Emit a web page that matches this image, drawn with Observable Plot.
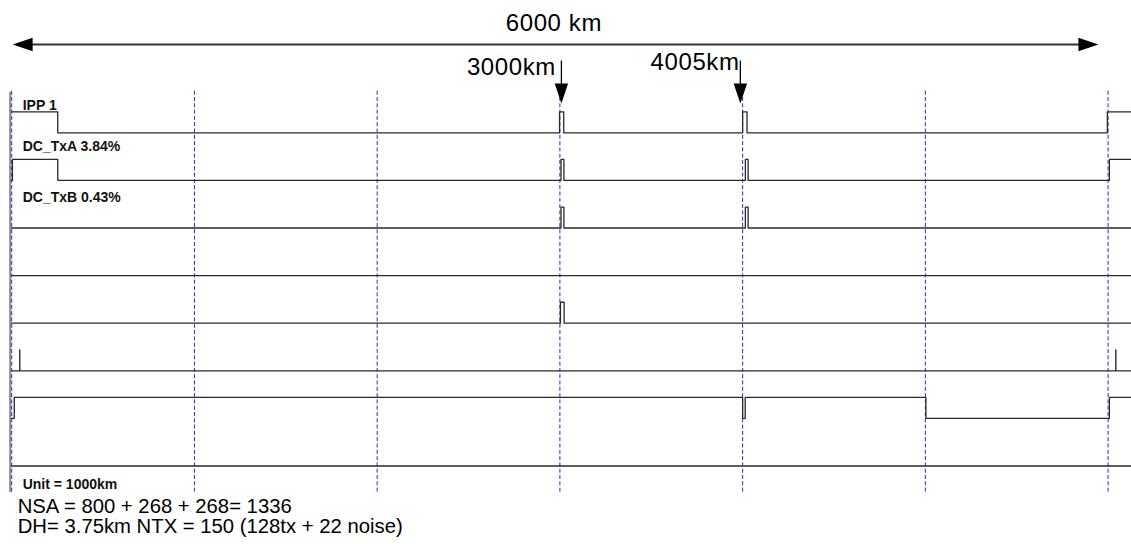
<!DOCTYPE html>
<html>
<head>
<meta charset="utf-8">
<script src="https://cdn.jsdelivr.net/npm/d3@7"></script>
<script src="https://cdn.jsdelivr.net/npm/@observablehq/plot@0.6"></script>
<style>
  html, body { margin: 0; padding: 0; background: #fff; }
  #chart svg { display: block; }
</style>
</head>
<body>
<div id="chart"></div>
<script>
// ---- data ----
const gridKm = [0, 1000, 2000, 3000, 4000, 5000, 6000];
const traceLabels = ["IPP 1", "DC_TxA 3.84%", "DC_TxB 0.43%"];
const markerKm = [3000, 4005];
const markerLabels = ["3000km", "4005km"];
const spanKm = [5, 5947];
const spanLabel = ["6000 km"];
const unitLabel = ["Unit = 1000km"];
const notes = ["NSA = 800 + 268 + 268= 1336", "DH= 3.75km NTX = 150 (128tx + 22 noise)"];

// each trace: [km, level] transitions (level 0 = low, 1 = high)
const traceIPP1 = [[0, 1], [252, 0], [2998, 1], [3021, 0], [4000, 1], [4024, 0], [5996, 1], [6130, 1]];
const traceTxA  = [[0, 0], [4, 1], [252, 0], [3006, 1], [3022, 0], [4015, 1], [4030, 0], [6007, 1], [6130, 1]];
const traceTxB  = [[0, 0], [3006, 1], [3022, 0], [4015, 1], [4030, 0], [6130, 0]];
const trace4    = [[0, 0], [6130, 0]];
const trace5    = [[0, 0], [3003, 1], [3023, 0], [6130, 0]];
const trace6    = [[0, 0], [44, 1], [44.5, 0], [6042, 1], [6042.5, 0], [6130, 0]];
const trace7    = [[0, 0], [14, 1], [4000, 0], [4014, 1], [5003, 0], [6007, 1], [6130, 1]];
const trace8    = [[0, 0], [6130, 0]];
const traces = [traceIPP1, traceTxA, traceTxB, trace4, trace5, trace6, trace7, trace8];

// ---- build table ----
const pulseHeight = 0.44; // in row units
const rows = [];
traces.forEach((t, i) => t.forEach(([km, lvl]) => rows.push({trace: i, km, lvl})));
const yOf = d => d.trace + 1 - d.lvl * pulseHeight;

const font = "Liberation Sans, Arial, Helvetica, sans-serif";
const headSymbol = {
  draw(context, size) {
    const r = Math.sqrt(size / Math.PI);
    context.moveTo(0, 0);
    context.lineTo(-2 * r, -0.67 * r);
    context.lineTo(-2 * r, 0.67 * r);
    context.closePath();
  }
};

const plot = Plot.plot({
  width: 1131,
  height: 544,
  margin: 0,
  style: {fontFamily: font, background: "#fff", overflow: "visible"},
  x: {type: "linear", domain: [0, 6000], range: [11.2, 1107.6], axis: null},
  y: {type: "linear", domain: [0, 10], range: [84.7, 84.7 + 476], axis: null},
  marks: [
    // left solid gray border
    Plot.ruleX([0], {y1: 0.15, y2: 8.557, stroke: "#8a8a8a", strokeWidth: 2, dx: -1.5}),
    // dashed blue grid
    Plot.ruleX(gridKm, {y1: 0.126, y2: 8.557, stroke: "#2a2acc", strokeWidth: 1, strokeDasharray: "4,2.3"}),
    // traces
    Plot.line(rows, {x: "km", y: yOf, z: "trace", curve: "step-after", stroke: "#2a2a2a", strokeWidth: 1.3}),
    // trace labels
    Plot.text(traceLabels, {x: 0, y: [0.511, 1.387, 2.464], text: d => d, dx: 11, textAnchor: "start", lineAnchor: "bottom",
      fontSize: 14, fontWeight: "bold", fill: "#111"}),
    Plot.text(unitLabel, {x: 0, y: [8.473], text: d => d, dx: 11, textAnchor: "start", lineAnchor: "bottom",
      fontSize: 14, fontWeight: "bold", fill: "#111"}),
    // span arrow
    Plot.link([spanKm], {x1: d => d[0] + 60, x2: d => d[1] - 60, y1: -0.855, y2: -0.855, stroke: "#333", strokeWidth: 2}),
    Plot.dot(spanKm, {x: d => d, y: -0.855, symbol: headSymbol, r: 10, fill: "#000", stroke: "none",
      rotate: d => (d < 3000 ? 180 : 0)}),
    Plot.text(spanLabel, {x: 3000, y: [-1.149], text: d => d, dx: -6, textAnchor: "middle", lineAnchor: "bottom",
      fontSize: 24, fill: "#000"}),
    // marker arrows
    Plot.link(markerKm, {x1: d => d, x2: d => d, y1: -0.519, y2: 0.2, stroke: "#000", strokeWidth: 1.3}),
    Plot.dot(markerKm, {x: d => d, y: 0.384, symbol: headSymbol, r: 10, fill: "#000", stroke: "none", rotate: 90}),
    Plot.text(markerLabels, {x: markerKm, y: [-0.204, -0.324], text: d => d, dx: -4, textAnchor: "end", lineAnchor: "bottom",
      fontSize: 24, fill: "#000"}),
    // notes
    Plot.text(notes, {x: 0, y: [8.977, 9.418], text: d => d, dx: 6, textAnchor: "start", lineAnchor: "bottom",
      fontSize: 20.3, fill: "#000"})
  ]
});

// fine horizontal offsets for the marker arrows (3000 km slightly right, 4005 km slightly left)
const offsets = [1.5, -3.2];
plot.querySelectorAll('g[aria-label="link"]').forEach((g, gi) => {
  if (gi === 1) g.querySelectorAll("line, path").forEach((el, i) => el.setAttribute("transform", `translate(${offsets[i]},0)`));
});
plot.querySelectorAll('g[aria-label="dot"]').forEach((g, gi) => {
  if (gi === 1) g.querySelectorAll("path").forEach((el, i) => {
    const t = el.getAttribute("transform") || "";
    el.setAttribute("transform", `translate(${offsets[i]},0) ${t}`);
  });
});
plot.querySelectorAll('g[aria-label="text"]').forEach(g => {
  const fs = g.getAttribute("font-size");
  if (fs === "24") g.setAttribute("letter-spacing", "0.6");
});

document.getElementById("chart").appendChild(plot);
</script>
</body>
</html>
